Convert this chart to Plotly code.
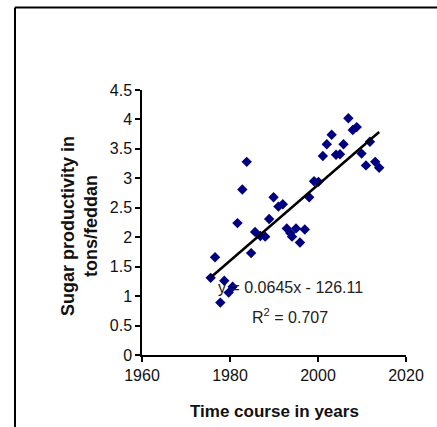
import plotly.graph_objects as go

# Data
years = [1975.6, 1976.6, 1977.8, 1978.7, 1979.7, 1980.6, 1981.7, 1982.8, 1983.8, 1984.8,
         1985.7, 1986.9, 1988.0, 1988.9, 1989.9, 1991.0, 1992.0, 1992.9, 1993.7, 1994.1,
         1995.0, 1995.9, 1997.0, 1998.0, 1999.1, 2000.1, 2001.1, 2002.0, 2003.1, 2004.1,
         2005.0, 2005.8, 2006.9, 2007.9, 2008.8, 2009.9, 2010.9, 2011.8, 2013.0, 2013.9]
productivity = [1.31, 1.66, 0.89, 1.26, 1.06, 1.16, 2.24, 2.81, 3.28, 1.73,
                2.09, 2.02, 2.01, 2.31, 2.68, 2.52, 2.56, 2.15, 2.07, 2.01,
                2.15, 1.91, 2.13, 2.68, 2.95, 2.94, 3.38, 3.58, 3.74, 3.40,
                3.41, 3.58, 4.02, 3.82, 3.87, 3.42, 3.22, 3.62, 3.28, 3.18]
slope = 0.0645
intercept = -126.11
r_squared = 0.707
y_ticks = [0, 0.5, 1, 1.5, 2, 2.5, 3, 3.5, 4, 4.5]
x_ticks = [1960, 1980, 2000, 2020]

W, H = 437, 427
ML, MR, MT, MB = 142, 31, 90, 72
PW, PH = W - ML - MR, H - MT - MB

def px_x(p):
    return (p - ML) / PW

def px_y(p):
    return (H - MB - p) / PH

trend_x = [min(years), max(years)]
trend_y = [slope * x + intercept for x in trend_x]

font_fam = "Liberation Sans, Arial, sans-serif"

fig = go.Figure()
fig.add_trace(go.Scatter(
    x=years, y=productivity, mode="markers",
    marker=dict(symbol="diamond", size=8, color="#000080", line=dict(width=0)),
    showlegend=False, hoverinfo="skip"))
fig.add_trace(go.Scatter(
    x=trend_x, y=trend_y, mode="lines",
    line=dict(color="black", width=2.5),
    showlegend=False, hoverinfo="skip"))

fig.update_layout(
    width=W, height=H,
    margin=dict(l=ML, r=MR, t=MT, b=MB, autoexpand=False),
    paper_bgcolor="white", plot_bgcolor="white",
    font=dict(family=font_fam, size=16, color="#111111"),
    xaxis=dict(range=[1960, 2020], tickvals=x_ticks, showgrid=False, zeroline=False,
               showline=True, linecolor="black", linewidth=1.5,
               ticks="outside", ticklen=5, tickwidth=1.5, tickcolor="black",
               tickfont=dict(size=16)),
    yaxis=dict(range=[0, 4.5], tickvals=y_ticks, showgrid=False, zeroline=False,
               showline=True, linecolor="black", linewidth=1.5,
               ticks="outside", ticklen=5, tickwidth=1.5, tickcolor="black",
               tickfont=dict(size=16)),
)

fig.add_annotation(x=1993.7, y=1.14, xref="x", yref="y", showarrow=False,
                   text=f"y = {slope}x - {abs(intercept)}", font=dict(size=16, color="#222222"))
fig.add_annotation(x=1993.7, y=0.66, xref="x", yref="y", showarrow=False,
                   text=f"R<sup>2</sup> = {r_squared}", font=dict(size=16, color="#222222"))

fig.add_annotation(x=0.5, y=px_y(411), xref="paper", yref="paper", showarrow=False,
                   text="<b>Time course in years</b>", font=dict(size=17, color="#111111"),
                   xanchor="center", yanchor="middle")
fig.add_annotation(x=px_x(79), y=px_y(226), xref="paper", yref="paper", showarrow=False,
                   text="<b>Sugar productivity in</b><br><b>tons/feddan</b>", textangle=-90,
                   font=dict(size=18, color="#111111"), xanchor="center", yanchor="middle")

# outer frame (left and top edges visible)
fig.add_shape(type="line", xref="paper", yref="paper",
              x0=px_x(15), x1=px_x(15), y0=px_y(7.5), y1=px_y(H + 5),
              line=dict(color="black", width=2))
fig.add_shape(type="line", xref="paper", yref="paper",
              x0=px_x(15), x1=px_x(W + 5), y0=px_y(7.5), y1=px_y(7.5),
              line=dict(color="black", width=2))

fig.write_html("out.html")
